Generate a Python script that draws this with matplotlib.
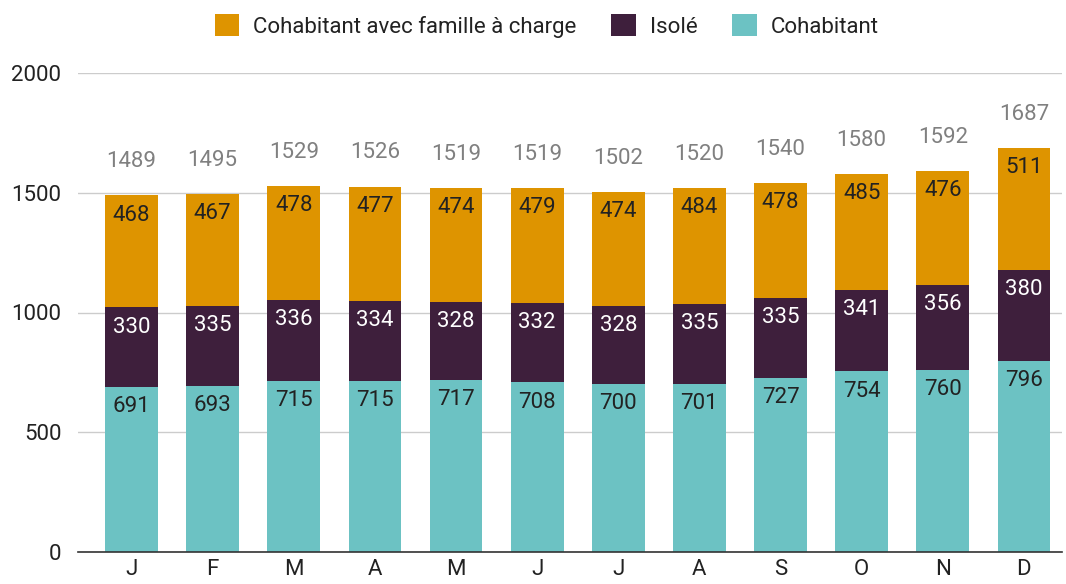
import matplotlib

matplotlib.use("Agg")
import matplotlib.pyplot as plt
import numpy as np

plt.rcParams["font.family"] = ["Roboto", "DejaVu Sans"]

months = ["J", "F", "M", "A", "M", "J", "J", "A", "S", "O", "N", "D"]
cohabitant = [691, 693, 715, 715, 717, 708, 700, 701, 727, 754, 760, 796]
isole = [330, 335, 336, 334, 328, 332, 328, 335, 335, 341, 356, 380]
famille = [468, 467, 478, 477, 474, 479, 474, 484, 478, 485, 476, 511]
totals = [1489, 1495, 1529, 1526, 1519, 1519, 1502, 1520, 1540, 1580, 1592, 1687]

teal = "#6CC2C3"
plum = "#3E1F3C"
orange = "#DE9400"
ink = "#222222"
grey = "#808080"
fs = 16

fig = plt.figure(figsize=(10.66, 5.84), dpi=100)
# axes spans y from 0 (px 552) to 2000 (px 73)
ax = fig.add_axes([78 / 1066, 32 / 584, (1062 - 78) / 1066, (552 - 73) / 584])

x = np.arange(len(months))
w = 0.65
b1 = ax.bar(x, cohabitant, w, color=teal, label="Cohabitant", zorder=3)
b2 = ax.bar(x, isole, w, bottom=cohabitant, color=plum, label="Isolé", zorder=3)
bot3 = np.array(cohabitant) + np.array(isole)
b3 = ax.bar(x, famille, w, bottom=bot3, color=orange,
            label="Cohabitant avec famille à charge", zorder=3)

off = 82  # label sits a little under the segment top
for i in range(len(months)):
    ax.text(x[i], cohabitant[i] - off, str(cohabitant[i]), ha="center", va="center",
            fontsize=fs, color=ink, zorder=4)
    ax.text(x[i], cohabitant[i] + isole[i] - off, str(isole[i]), ha="center",
            va="center", fontsize=fs, color="white", zorder=4)
    ax.text(x[i], bot3[i] + famille[i] - off, str(famille[i]), ha="center",
            va="center", fontsize=fs, color=ink, zorder=4)
    ax.text(x[i], totals[i] + 140, str(totals[i]), ha="center", va="center",
            fontsize=fs, color=grey, zorder=4)

ax.set_ylim(0, 2000)
ax.set_xlim(-0.66, 11.47)
ax.set_yticks([0, 500, 1000, 1500, 2000])
ax.set_xticks(x)
ax.set_xticklabels(months)
ax.tick_params(axis="both", length=0, labelsize=fs, labelcolor=ink)
ax.tick_params(axis="y", pad=12)
ax.tick_params(axis="x", pad=5)
ax.grid(True, axis="y", color="#CCCCCC", linewidth=1, zorder=0)
for s in ("top", "right", "left"):
    ax.spines[s].set_visible(False)
ax.spines["bottom"].set_color("#333333")
ax.spines["bottom"].set_linewidth(1.2)
ax.spines["bottom"].set_zorder(5)

fig.legend(handles=[b3, b2, b1], loc="center", bbox_to_anchor=(0.513, 1 - 26 / 584),
           ncol=3, frameon=False, fontsize=fs, handlelength=1.1, handleheight=1.1,
           columnspacing=1.55, handletextpad=0.65)
for t in fig.legends[0].get_texts():
    t.set_color(ink)

fig.savefig("out.png", dpi=100)
